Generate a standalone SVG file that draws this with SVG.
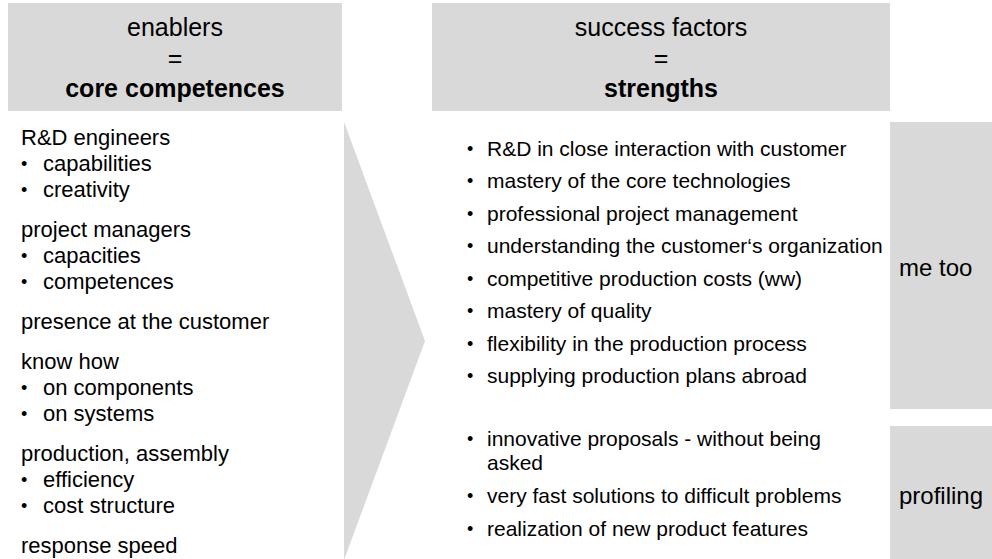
<svg xmlns="http://www.w3.org/2000/svg" width="992" height="559" viewBox="0 0 992 559">
<style>
  .box { fill: #d9d9d9; }
  text { font-family: "Liberation Sans", Arial, sans-serif; fill: #000; }
  .hd { font-size: 25px; text-anchor: middle; }
  .hb { font-size: 25px; font-weight: bold; text-anchor: middle; }
  .tl { font-size: 22px; }
  .tr { font-size: 21px; }
  .bu { font-size: 18px; }
  .lb { font-size: 24px; }
</style>
<rect width="992" height="559" fill="#ffffff"/>
<g id="enablers-header">
  <rect class="box" x="8" y="3" width="334" height="108"/>
  <text class="hd" x="175" y="36">enablers</text>
  <text class="hd" x="175" y="67">=</text>
  <text class="hb" x="175" y="97">core competences</text>
</g>
<g id="success-header">
  <rect class="box" x="432" y="3" width="458" height="108"/>
  <text class="hd" x="661" y="36">success factors</text>
  <text class="hd" x="661" y="67">=</text>
  <text class="hb" x="661" y="97">strengths</text>
</g>
<g id="connectors">
  <polygon class="box" points="344,122 425,341 344,560"/>
</g>
<g id="enablers-list">
  <text class="tl" x="21" y="145">R&amp;D engineers</text>
  <text class="bu" x="21" y="170">•</text><text class="tl" x="43" y="171">capabilities</text>
  <text class="bu" x="21" y="196">•</text><text class="tl" x="43" y="197">creativity</text>
  <text class="tl" x="21" y="237">project managers</text>
  <text class="bu" x="21" y="262">•</text><text class="tl" x="43" y="263">capacities</text>
  <text class="bu" x="21" y="288">•</text><text class="tl" x="43" y="289">competences</text>
  <text class="tl" x="21" y="329">presence at the customer</text>
  <text class="tl" x="21" y="369">know how</text>
  <text class="bu" x="21" y="394">•</text><text class="tl" x="43" y="395">on components</text>
  <text class="bu" x="21" y="420">•</text><text class="tl" x="43" y="421">on systems</text>
  <text class="tl" x="21" y="461">production, assembly</text>
  <text class="bu" x="21" y="486">•</text><text class="tl" x="43" y="487">efficiency</text>
  <text class="bu" x="21" y="512">•</text><text class="tl" x="43" y="513">cost structure</text>
  <text class="tl" x="21" y="553">response speed</text>
</g>
<g id="me-too">
  <rect class="box" x="890" y="122" width="102" height="287"/>
  <text class="lb" x="899" y="276">me too</text>
</g>
<g id="profiling">
  <rect class="box" x="890" y="426" width="102" height="133"/>
  <text class="lb" x="899" y="504">profiling</text>
</g>
<g id="success-list">
  <text class="bu" x="467" y="155">•</text><text class="tr" x="487" y="156">R&amp;D in close interaction with customer</text>
  <text class="bu" x="467" y="187">•</text><text class="tr" x="487" y="188">mastery of the core technologies</text>
  <text class="bu" x="467" y="220">•</text><text class="tr" x="487" y="221">professional project management</text>
  <text class="bu" x="467" y="252">•</text><text class="tr" x="487" y="253">understanding the customer‘s organization</text>
  <text class="bu" x="467" y="285">•</text><text class="tr" x="487" y="286">competitive production costs (ww)</text>
  <text class="bu" x="467" y="317">•</text><text class="tr" x="487" y="318">mastery of quality</text>
  <text class="bu" x="467" y="350">•</text><text class="tr" x="487" y="351">flexibility in the production process</text>
  <text class="bu" x="467" y="382">•</text><text class="tr" x="487" y="383">supplying production plans abroad</text>
  <text class="bu" x="467" y="445">•</text><text class="tr" x="487" y="446">innovative proposals - without being</text>
  <text class="tr" x="487" y="470">asked</text>
  <text class="bu" x="467" y="502">•</text><text class="tr" x="487" y="503">very fast solutions to difficult problems</text>
  <text class="bu" x="467" y="535">•</text><text class="tr" x="487" y="536">realization of new product features</text>
</g>
</svg>
